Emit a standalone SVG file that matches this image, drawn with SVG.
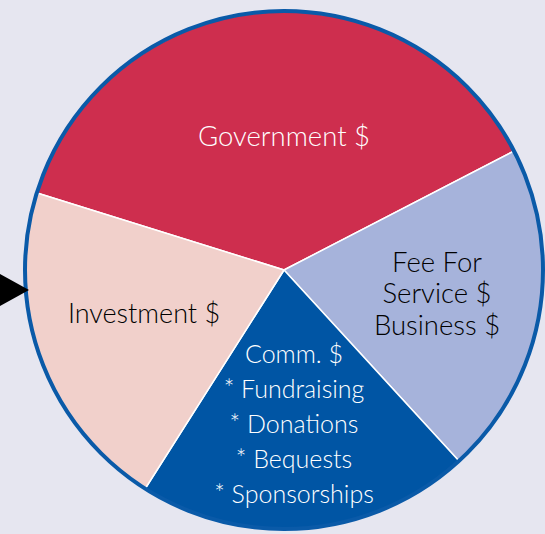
<svg xmlns="http://www.w3.org/2000/svg" width="545" height="534" viewBox="0 0 545 534">
<style>
.sep{stroke:#ffffff;stroke-width:1.5;}
.lbl{font-family:Lato,"Open Sans","Liberation Sans",sans-serif;font-weight:300;text-anchor:middle;}
.w{fill:#ffffff;}
.k{fill:#000000;}
</style>
<rect x="0" y="0" width="545" height="534" fill="#E6E6F0"/>
<g id="government">
<path d="M284,270 L37,193 A259,259 0 0 1 514,151 Z" fill="#CE2E4E" class="sep"/>
<text class="lbl w" x="284" y="146" font-size="27.5">Government $</text>
</g>
<g id="fee-for-service">
<path d="M284,270 L514,151 A259,259 0 0 1 459,461 Z" fill="#A6B3DB" class="sep"/>
<text class="lbl k" x="437" y="272" font-size="27.5">Fee For</text>
<text class="lbl k" x="437" y="303" font-size="27.5">Service $</text>
<text class="lbl k" x="437" y="335" font-size="27.5">Business $</text>
</g>
<g id="community">
<path d="M284,270 L459,461 A259,259 0 0 1 145,489 Z" fill="#0055A4" class="sep"/>
<text class="lbl w" x="294" y="363" font-size="25">Comm. $</text>
<text class="lbl w" x="294" y="398" font-size="25">* Fundraising</text>
<text class="lbl w" x="294" y="433" font-size="25">* Donations</text>
<text class="lbl w" x="294" y="468" font-size="25">* Bequests</text>
<text class="lbl w" x="294" y="503" font-size="25">* Sponsorships</text>
</g>
<g id="investment">
<path d="M284,270 L145,489 A259,259 0 0 1 37,193 Z" fill="#F1D0CB" class="sep"/>
<text class="lbl k" x="144" y="323" font-size="27">Investment $</text>
</g>
<g id="connectors">
<circle cx="284" cy="270" r="259" fill="none" stroke="#0A5AA8" stroke-width="4"/>
<polygon points="0,274 29,290 0,306" fill="#000000"/>
</g>
</svg>
